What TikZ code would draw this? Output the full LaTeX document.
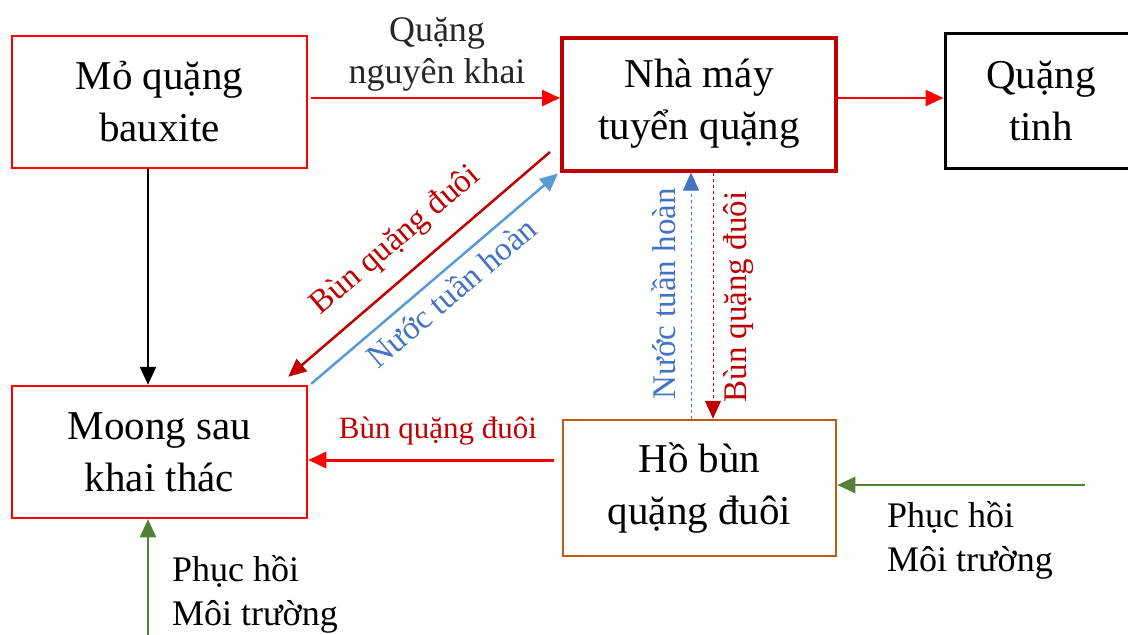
\documentclass[tikz,border=0pt]{standalone}
\usepackage{fontspec}
\setmainfont{Liberation Serif}
\usetikzlibrary{arrows.meta,calc}
\definecolor{bred}{HTML}{FF0000}
\definecolor{dred}{HTML}{C00000}
\definecolor{lblue}{HTML}{5B9BD5}
\definecolor{tblue}{HTML}{4472C4}
\definecolor{orng}{HTML}{C55A11}
\definecolor{grn}{HTML}{548235}
\tikzset{
  boxnode/.style={draw, minimum width=295pt, minimum height=132pt, align=center, inner sep=0pt,
    font=\fontsize{41}{52}\selectfont},
  tip/.style={-{Triangle[length=18pt,width=16pt]}},
  lbl/.style={align=center, inner sep=0pt, font=\fontsize{33}{42}\selectfont},
  biglbl/.style={align=left, inner sep=0pt, font=\fontsize{36}{44}\selectfont},
}
\begin{document}
\begin{tikzpicture}[x=1pt,y=-1pt]
\useasboundingbox (0,0) rectangle (1128,635);
% boxes
\node[boxnode, draw=bred, line width=2.5pt] (A) at (159.5,102) {Mỏ quặng\\bauxite};
\node[boxnode, draw=dred, line width=4pt, minimum width=274pt, minimum height=133pt] (B) at (699,104) {Nhà máy\\tuyển quặng};
\node[boxnode, draw=black, line width=3pt, minimum width=192pt, minimum height=135pt] (C) at (1041,100.5) {Quặng\\tinh};
\node[boxnode, draw=bred, line width=2.5pt] (D) at (159.5,452) {Moong sau\\khai thác};
\node[boxnode, draw=orng, line width=2.5pt, minimum width=273pt, minimum height=136pt] (E) at (699.5,488) {Hồ bùn\\quặng đuôi};
% helper coordinates
\coordinate (xb) at (691,0);
\coordinate (xr) at (713,0);
\coordinate (xa) at (148,0);
\coordinate (ed) at ($(E.west)+(-8,-28)$);
\coordinate (gr) at (1085,485);
\coordinate (gb) at (148,640);
% connectors
\draw[bred, line width=2.5pt, tip] ($(A.east)+(3,-4)$) -- ($(A.east -| B.west)+(0,-4)$);
\draw[bred, line width=2.5pt, tip] ($(B.east)+(0,-6)$) -- ($(B.east -| C.west)+(0,-6)$);
\draw[black, line width=2.5pt, tip] (A.south -| xa) -- (D.north -| xa);
\draw[dred, line width=2.5pt, tip] ($(B.west)+(-10,48)$) -- ($(D.north east)+(-20,-8)$);
\draw[lblue, line width=2.5pt, tip] ($(D.north east)+(3,-1)$) -- ($(B.south west)+(-2,1)$);
\draw[tblue, line width=1pt, dashed, tip] (E.north -| xb) -- (B.south -| xb);
\draw[dred, line width=1pt, dashed, tip] (B.south -| xr) -- (E.north -| xr);
\draw[bred, line width=3pt, tip] (ed) -- (ed -| D.east);
\draw[grn, line width=2.5pt, tip] (gr) -- (gr -| E.east);
\draw[grn, line width=2.5pt, tip] (gb) -- (gb |- D.south);
% labels
\node[lbl, font=\fontsize{36}{42}\selectfont, text=black!85] (l1) at (437,54) {Quặng\\nguyên khai};
\node[lbl, text=dred, rotate=40.5] (l2) at (396,241) {Bùn quặng đuôi};
\node[lbl, text=tblue, rotate=40.5] (l3) at (451,292) {Nước tuần hoàn};
\node[lbl, text=tblue, rotate=90] (l4) at (664,294) {Nước tuần hoàn};
\node[lbl, text=dred, rotate=90] (l5) at (739,297) {Bùn quặng đuôi};
\node[lbl, font=\fontsize{31}{40}\selectfont, text=dred] (l6) at (438,431) {Bùn quặng đuôi};
\node[biglbl, anchor=north west] (l7) at (887,501) {Phục hồi\\Môi trường};
\node[biglbl, anchor=north west] (l8) at (172,555) {Phục hồi\\Môi trường};
\end{tikzpicture}
\end{document}
